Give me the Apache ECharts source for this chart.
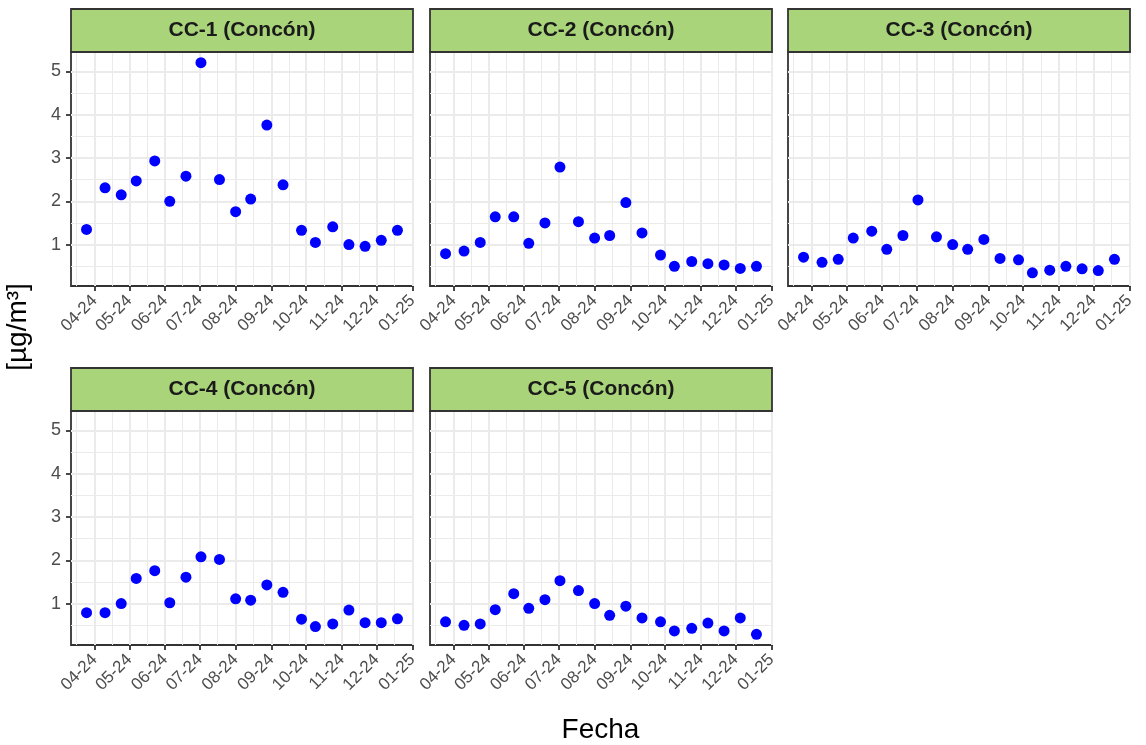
<!DOCTYPE html>
<html>
<head>
<meta charset="utf-8">
<script src="https://cdn.jsdelivr.net/npm/echarts@6/dist/echarts.min.js"></script>
<style>
  html, body { margin: 0; padding: 0; background: #ffffff; }
  #chart { width: 1146px; height: 745px; }
</style>
</head>
<body>
<div id="chart"></div>
<script>
// Estaciones de monitoreo (una faceta por estación)
const estaciones = ['CC-1 (Concón)', 'CC-2 (Concón)', 'CC-3 (Concón)', 'CC-4 (Concón)', 'CC-5 (Concón)'];

// Fechas de muestreo
const fechas = [
  '2024-03-25', '2024-04-10', '2024-04-24', '2024-05-07', '2024-05-23',
  '2024-06-05', '2024-06-19', '2024-07-02', '2024-07-18', '2024-08-01',
  '2024-08-14', '2024-08-28', '2024-09-11', '2024-09-27', '2024-10-09',
  '2024-10-24', '2024-11-07', '2024-11-21', '2024-12-05', '2024-12-19'
];

// Concentraciones [µg/m³] por estación
const cc1 = [1.35, 2.31, 2.15, 2.47, 2.93, 2.00, 2.58, 5.20, 2.50, 1.76, 2.05, 3.76, 2.38, 1.33, 1.05, 1.41, 1.00, 0.96, 1.10, 1.33];
const cc2 = [0.79, 0.85, 1.05, 1.64, 1.64, 1.03, 1.50, 2.79, 1.53, 1.15, 1.21, 1.97, 1.27, 0.76, 0.50, 0.61, 0.56, 0.53, 0.45, 0.50];
const cc3 = [0.71, 0.59, 0.66, 1.15, 1.31, 0.89, 1.21, 2.03, 1.18, 1.00, 0.89, 1.12, 0.68, 0.65, 0.35, 0.41, 0.50, 0.44, 0.40, 0.66];
const cc4 = [0.79, 0.79, 1.00, 1.58, 1.76, 1.02, 1.61, 2.08, 2.02, 1.11, 1.08, 1.43, 1.26, 0.64, 0.47, 0.53, 0.85, 0.56, 0.56, 0.65];
const cc5 = [0.58, 0.50, 0.53, 0.86, 1.23, 0.89, 1.09, 1.53, 1.30, 1.00, 0.73, 0.94, 0.67, 0.58, 0.37, 0.43, 0.55, 0.37, 0.67, 0.29];
const valores = [cc1, cc2, cc3, cc4, cc5];

// Cortes del eje x (inicio de cada mes) y del eje y
const meses = [
  '2024-03-01', '2024-04-01', '2024-05-01', '2024-06-01', '2024-07-01', '2024-08-01',
  '2024-09-01', '2024-10-01', '2024-11-01', '2024-12-01', '2025-01-01'
];
const yCortes = [0, 1, 2, 3, 4, 5, 6];

// ---------------------------------------------------------------------------
const FONT = "'Liberation Sans', Arial, sans-serif";
const GRID_COLOR = '#EBEBEB';
const BORDER = '#333333';
const TEXT_GREY = '#4D4D4D';

function toMs(s) {
  const p = s.split('-').map(Number);
  return Date.UTC(p[0], p[1] - 1, p[2]);
}
function fmtMes(v) {
  const d = new Date(v);
  const mm = String(d.getUTCMonth() + 1).padStart(2, '0');
  const yy = String(d.getUTCFullYear() % 100).padStart(2, '0');
  return mm + '-' + yy;
}

// Escalas compartidas con expansión del 5 %
const xs = fechas.map(toMs);
const xMinD = Math.min(...xs), xMaxD = Math.max(...xs);
const xPad = (xMaxD - xMinD) * 0.05;
const xMin = xMinD - xPad, xMax = xMaxD + xPad;

const todos = valores.flat();
const yMinD = Math.min(...todos), yMaxD = Math.max(...todos);
const yPad = (yMaxD - yMinD) * 0.05;
const yMin = yMinD - yPad, yMax = yMaxD + yPad;

const mesesMs = meses.map(toMs);
const xMayor = mesesMs.filter(v => v >= xMin && v <= xMax);
const xMenor = [];
for (let i = 0; i < mesesMs.length - 1; i++) {
  const m = (mesesMs[i] + mesesMs[i + 1]) / 2;
  if (m >= xMin && m <= xMax) xMenor.push(m);
}
const yMayor = yCortes.filter(v => v >= yMin && v <= yMax);
const yMenor = [];
for (let i = 0; i < yCortes.length - 1; i++) {
  const m = (yCortes[i] + yCortes[i + 1]) / 2;
  if (m >= yMin && m <= yMax) yMenor.push(m);
}

// Disposición de facetas: 3 columnas, 2 filas
const colLeft = [71, 430, 788];
const panelW = 342;
const rowTop = [52, 411];
const panelH = 234;
const stripH = 43;

const grids = [], xAxes = [], yAxes = [], series = [], graphics = [];

estaciones.forEach((nombre, i) => {
  const col = i % 3, row = Math.floor(i / 3);
  const left = colLeft[col], top = rowTop[row];
  grids.push({
    left: left, top: top, width: panelW, height: panelH,
    show: true, backgroundColor: '#ffffff',
    borderColor: BORDER, borderWidth: 1.8
  });

  // eje x principal (meses)
  xAxes.push({
    type: 'value', gridIndex: i, position: 'bottom', min: xMin, max: xMax,
    axisLine: { show: false },
    axisTick: { show: true, length: 5, customValues: xMayor, lineStyle: { color: BORDER, width: 1.8 } },
    axisLabel: {
      show: true, customValues: xMayor, rotate: 45, margin: 12,
      color: TEXT_GREY, fontFamily: FONT, fontSize: 17, formatter: fmtMes
    },
    splitLine: { show: true, lineStyle: { color: GRID_COLOR, width: 2 } }
  });
  // eje x secundario: líneas menores a mitad de mes
  xAxes.push({
    type: 'value', gridIndex: i, position: 'top', min: xMin, max: xMax,
    axisLine: { show: false },
    axisTick: { show: false, customValues: xMenor },
    axisLabel: { show: false, customValues: xMenor },
    splitLine: { show: true, lineStyle: { color: GRID_COLOR, width: 1 } }
  });

  const conEtiquetas = col === 0;
  yAxes.push({
    type: 'value', gridIndex: i, position: 'left', min: yMin, max: yMax,
    axisLine: { show: false },
    axisTick: { show: conEtiquetas, length: 5, customValues: yMayor, lineStyle: { color: BORDER, width: 1.8 } },
    axisLabel: {
      show: conEtiquetas, customValues: yMayor, margin: 10,
      color: TEXT_GREY, fontFamily: FONT, fontSize: 18
    },
    splitLine: { show: true, lineStyle: { color: GRID_COLOR, width: 2 } }
  });
  yAxes.push({
    type: 'value', gridIndex: i, position: 'right', min: yMin, max: yMax,
    axisLine: { show: false },
    axisTick: { show: false, customValues: yMenor },
    axisLabel: { show: false, customValues: yMenor },
    splitLine: { show: true, lineStyle: { color: GRID_COLOR, width: 1 } }
  });

  series.push({
    type: 'scatter', name: nombre,
    xAxisIndex: 2 * i, yAxisIndex: 2 * i,
    data: xs.map((x, k) => [x, valores[i][k]]),
    symbol: 'circle', symbolSize: 11,
    itemStyle: { color: '#0000FF', opacity: 1 },
    z: 5
  });

  // franja con el nombre de la estación
  const stripTop = top - stripH;
  graphics.push({
    type: 'rect', z: 10,
    shape: { x: left, y: stripTop, width: panelW, height: stripH },
    style: { fill: '#A9D47A', stroke: BORDER, lineWidth: 1.8 }
  });
  graphics.push({
    type: 'text', z: 11,
    x: left + panelW / 2, y: stripTop + stripH / 2,
    style: {
      text: nombre, fill: '#1A1A1A', font: 'bold 21px ' + FONT,
      align: 'center', verticalAlign: 'middle'
    }
  });
});

// títulos de los ejes
graphics.push({
  type: 'text', x: 18, y: 327, rotation: Math.PI / 2,
  style: { text: '[µg/m³]', fill: '#000000', font: '28px ' + FONT, align: 'center', verticalAlign: 'middle' }
});
graphics.push({
  type: 'text', x: (colLeft[0] + colLeft[2] + panelW) / 2, y: 730,
  style: { text: 'Fecha', fill: '#000000', font: '28px ' + FONT, align: 'center', verticalAlign: 'middle' }
});

const chart = echarts.init(document.getElementById('chart'), null, { renderer: 'canvas' });
chart.setOption({
  animation: false,
  backgroundColor: '#ffffff',
  grid: grids,
  xAxis: xAxes,
  yAxis: yAxes,
  series: series,
  graphic: graphics
});
</script>
</body>
</html>
